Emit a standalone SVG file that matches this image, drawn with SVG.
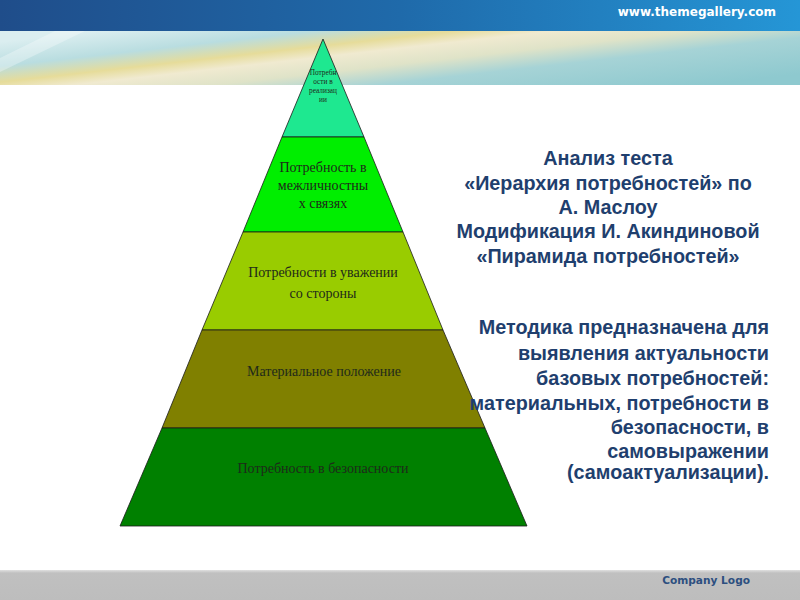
<svg xmlns="http://www.w3.org/2000/svg" width="800" height="600" viewBox="0 0 800 600">
<defs>
<linearGradient id="topbar" x1="0" y1="0" x2="1" y2="0">
<stop offset="0" stop-color="#1f4d8a"/>
<stop offset="0.5" stop-color="#1f6aaa"/>
<stop offset="1" stop-color="#2596d6"/>
</linearGradient>
<linearGradient id="banner" x1="0" y1="0.2" x2="1" y2="0.8">
<stop offset="0" stop-color="#dbeef0"/>
<stop offset="0.2" stop-color="#b9dde0"/>
<stop offset="0.33" stop-color="#e6dc9a"/>
<stop offset="0.42" stop-color="#f0ead0"/>
<stop offset="0.55" stop-color="#dfe3c8"/>
<stop offset="0.7" stop-color="#a6d3d6"/>
<stop offset="1" stop-color="#8ec9cf"/>
</linearGradient>
<linearGradient id="footer" x1="0" y1="0" x2="0" y2="1">
<stop offset="0" stop-color="#e0e0e0"/>
<stop offset="0.1" stop-color="#c0c0c0"/>
<stop offset="1" stop-color="#bdbdbd"/>
</linearGradient>
<style>
.lvl{stroke:#1a1a1a;stroke-width:0.8;}
.pt{font-family:"Liberation Serif","Times New Roman",serif;fill:#1e2a1a;text-anchor:middle;}
.rt{font-family:"Liberation Sans",Arial,sans-serif;font-weight:bold;fill:#1f3f6e;font-size:19.8px;}
</style>
</defs>
<rect x="0" y="0" width="800" height="600" fill="#ffffff"/>
<rect x="0" y="0" width="800" height="31" fill="url(#topbar)"/>
<rect x="0" y="31" width="800" height="54" fill="url(#banner)"/>
<path d="M0,58 L55,31 L85,31 L0,72 Z" fill="#ffffff" opacity="0.3"/>
<text x="776" y="16" text-anchor="end" font-family="'DejaVu Sans',Verdana,sans-serif" font-weight="bold" font-size="12" fill="#ffffff">www.themegallery.com</text>
<rect x="0" y="570" width="800" height="30" fill="url(#footer)"/>
<text x="750" y="584" text-anchor="end" font-family="'DejaVu Sans',Verdana,sans-serif" font-weight="bold" font-size="10.6" fill="#2d4f80">Company Logo</text>

<g id="level1">
<polygon class="lvl" points="323,39 364,137 282,137" fill="#1ee890"/>
<text class="pt" font-size="7.3"><tspan x="323" y="75">Потребн</tspan><tspan x="323" y="84">ости в</tspan><tspan x="323" y="93">реализац</tspan><tspan x="323" y="102">ии</tspan></text>
</g>
<g id="level2">
<polygon class="lvl" points="282,137 364,137 403,232 243,232" fill="#00ee00"/>
<text class="pt" font-size="14"><tspan x="323" y="172">Потребность в</tspan><tspan x="323" y="190">межличностны</tspan><tspan x="323" y="208">х связях</tspan></text>
</g>
<g id="level3">
<polygon class="lvl" points="243,232 403,232 443,330 202,330" fill="#99cc00"/>
<text class="pt" font-size="14"><tspan x="323" y="277">Потребности в уважении</tspan><tspan x="323" y="298">со стороны</tspan></text>
</g>
<g id="level4">
<polygon class="lvl" points="202,330 443,330 485,428 162,428" fill="#808000"/>
<text class="pt" font-size="14" x="324" y="376">Материальное положение</text>
</g>
<g id="level5">
<polygon class="lvl" points="162,428 485,428 527,526 120,526" fill="#008000"/>
<text class="pt" font-size="14" x="323" y="473">Потребность в безопасности</text>
</g>

<g id="title">
<text class="rt" text-anchor="middle"><tspan x="608" y="165">Анализ теста</tspan><tspan x="608" y="190">«Иерархия потребностей» по</tspan><tspan x="608" y="214">А. Маслоу</tspan><tspan x="608" y="238">Модификация И. Акиндиновой</tspan><tspan x="608" y="263">«Пирамида потребностей»</tspan></text>
</g>
<g id="description">
<text class="rt" text-anchor="end"><tspan x="769" y="334">Методика предназначена для</tspan><tspan x="769" y="360">выявления актуальности</tspan><tspan x="769" y="385">базовых потребностей:</tspan><tspan x="769" y="410">материальных, потребности в</tspan><tspan x="769" y="434">безопасности, в</tspan><tspan x="769" y="458">самовыражении</tspan><tspan x="769" y="479">(самоактуализации).</tspan></text>
</g>
<g id="connectors"></g>
</svg>
